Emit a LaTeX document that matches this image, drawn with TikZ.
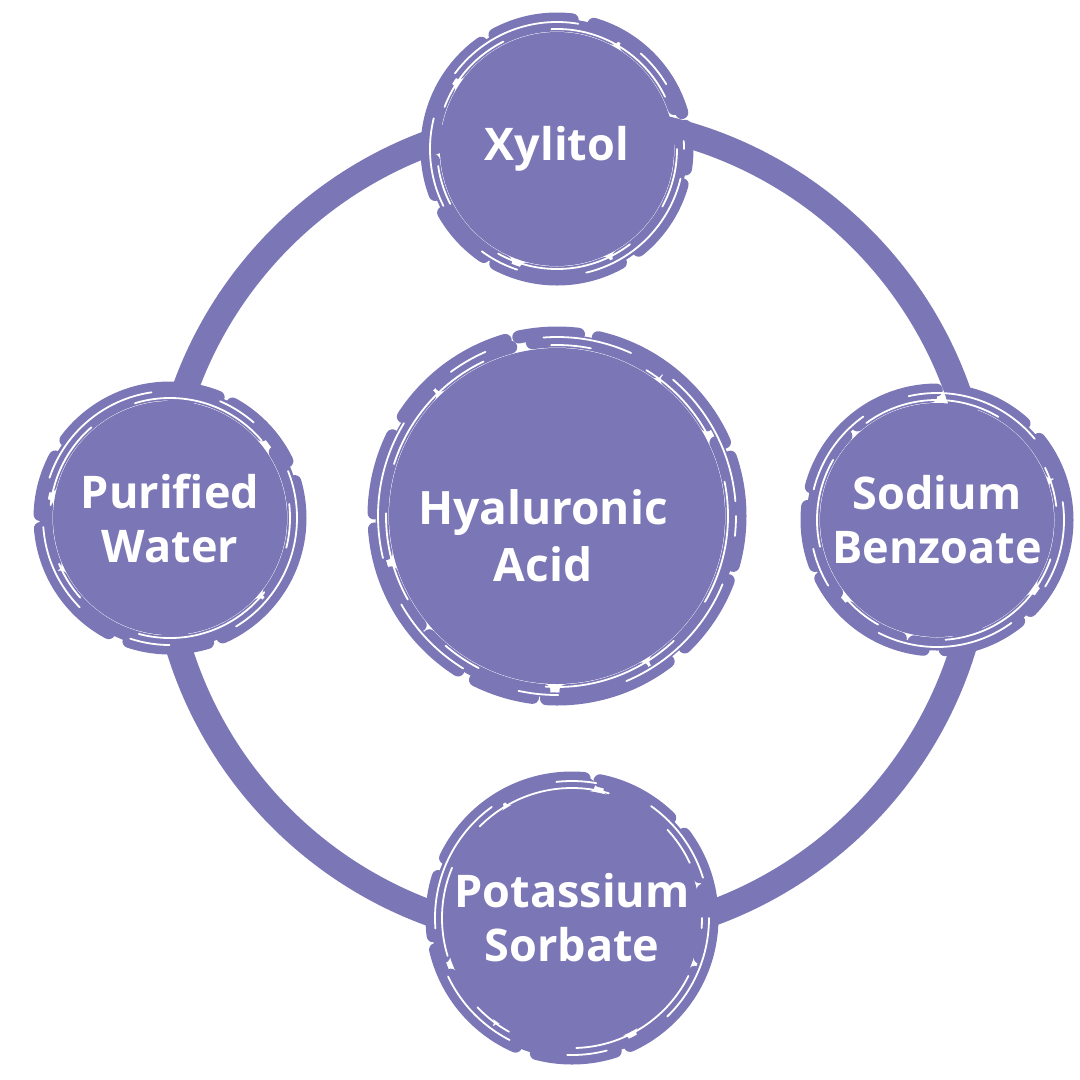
\documentclass[tikz,border=0pt]{standalone}
\usepackage{fontspec}
\setmainfont{Open Sans}
\usepackage{tikz}
\usetikzlibrary{positioning}
\definecolor{lav}{RGB}{123,118,181}

\begin{document}
\begin{tikzpicture}[
        x=1pt, y=-1pt,
        disc/.style = {
            circle,
            fill = lav,
            minimum size = #1,
            inner sep = 0pt,
            outer sep = 0pt,
            text = white,
            align = center,
            font = \bfseries\fontsize{45}{54}\selectfont
        },
        disc/.default = 234pt,
        ringline/.style = {draw = lav, line width = 26pt},
        brush/.style = {
            draw = lav,
            line width = 13pt,
            line cap = round,
            dash pattern = on 170pt off 16pt on 80pt off 22pt on 130pt off 14pt on 60pt off 20pt,
            dash phase = #1
        },
        brush/.default = 0pt,
        scratch/.style = {
            draw = white,
            line width = 1.8pt,
            line cap = round,
            dash pattern = on 90pt off 50pt on 140pt off 70pt on 40pt off 60pt,
            dash phase = #1
        },
        scratch/.default = 0pt
            ]
            \useasboundingbox (0,0) rectangle (1080,1080);
            
            \coordinate (mid) at (571,528);
            \draw[ringline] (mid) circle (410);
            
            \node[disc=336pt, label={[text=white, font=\bfseries\fontsize{46}{57}\selectfont, align=center, xshift=-14pt, yshift=-20pt]center:Hyaluronic\\Acid}] (hya) at (557,516) {};
            \node[disc] (xyl) at (557,149) {Xylitol};
            \node[disc] (pur) at (170,518) {Purified\\Water};
            \node[disc] (sod) at (937,520) {Sodium\\Benzoate};
            \node[disc=256pt] (pot) at (572,918) {Potassium\\Sorbate};
            
            \draw[brush] (hya) circle (175);
            \draw[brush=120pt] (hya) circle (183);
            \draw[scratch] (hya) circle (171);
            \draw[scratch=70pt] (hya) circle (179);
            
            \draw[brush=40pt] (xyl) circle (124);
            \draw[brush=150pt] (xyl) circle (130);
            \draw[scratch=30pt] (xyl) circle (120);
            \draw[scratch=110pt] (xyl) circle (127);
            
            \draw[brush=90pt] (pur) circle (124);
            \draw[brush=20pt] (pur) circle (130);
            \draw[scratch=60pt] (pur) circle (120);
            \draw[scratch=150pt] (pur) circle (127);
            
            \draw[brush=200pt] (sod) circle (124);
            \draw[brush=70pt] (sod) circle (130);
            \draw[scratch=100pt] (sod) circle (120);
            \draw[scratch=20pt] (sod) circle (127);
            
            \draw[brush=130pt] (pot) circle (134);
            \draw[brush=10pt] (pot) circle (140);
            \draw[scratch=80pt] (pot) circle (130);
            \draw[scratch=170pt] (pot) circle (137);
            
        \end{tikzpicture}
\end{document}
